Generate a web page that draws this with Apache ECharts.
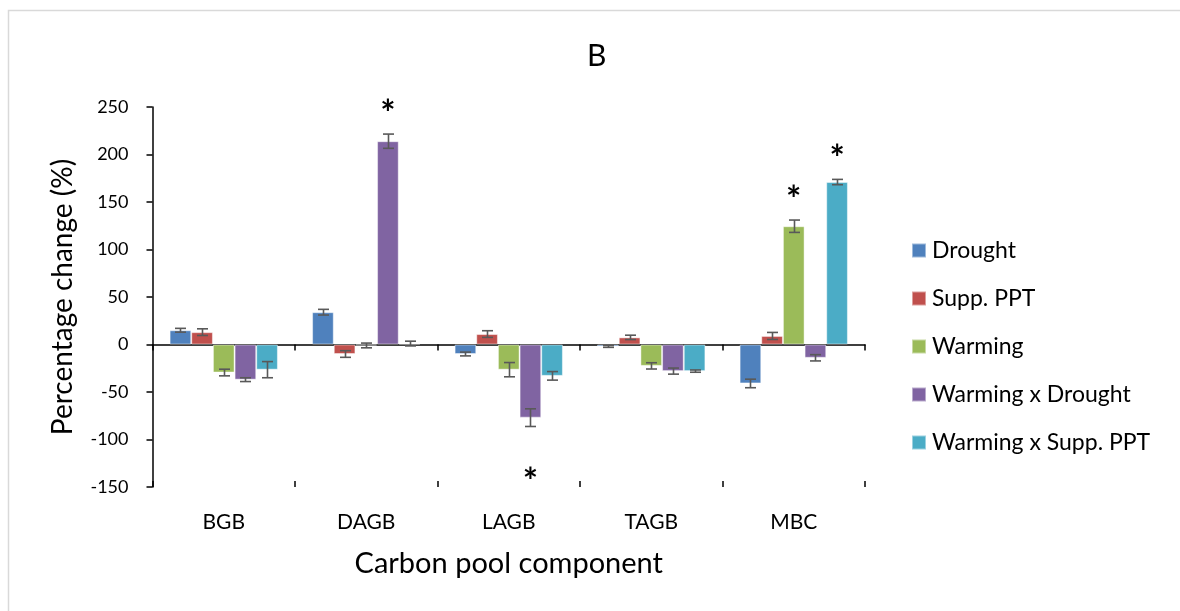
<!DOCTYPE html>
<html><head><meta charset="utf-8">
<script src="https://cdn.jsdelivr.net/npm/echarts@6/dist/echarts.min.js"></script>
<style>html,body{margin:0;padding:0;background:#fff}#c{width:1180px;height:611px}</style>
</head><body><div id="c"></div>
<script>
// ---- data ----
const categories = ['BGB', 'DAGB', 'LAGB', 'TAGB', 'MBC'];
const seriesNames = ['Drought', 'Supp. PPT', 'Warming', 'Warming x Drought', 'Warming x Supp. PPT'];
const drought        = [15, 34, -10, -2, -41];
const droughtErr     = [2, 3, 2, 1, 4.5];
const suppPPT        = [13, -10, 11, 7.5, 9];
const suppPPTErr     = [3.5, 3.5, 3.5, 2.3, 3.7];
const warming        = [-29.5, -1, -26.5, -22.5, 124.5];
const warmingErr     = [3.5, 2.5, 7.5, 3.3, 6.5];
const warmDrought    = [-37, 214, -77, -28, -14];
const warmDroughtErr = [2, 7.5, 9.3, 3.2, 3.3];
const warmSupp       = [-26.5, 1, -33, -28, 171];
const warmSuppErr    = [8.5, 2.5, 4.5, 1.2, 2.8];
// significant differences: [category index, series index]
const significant = [[1, 3], [2, 3], [4, 2], [4, 4]];
const yMin = -150, yMax = 250, yStep = 50;

// ---- styling ----
const colors = ['#4F81BD', '#C0504D', '#9BBB59', '#8064A2', '#4BACC6'];
const FONT = 'Lato, Carlito, "Open Sans", sans-serif';
const GAP = 0.24;

const values = [drought, suppPPT, warming, warmDrought, warmSupp];
const errs = [droughtErr, suppPPTErr, warmingErr, warmDroughtErr, warmSuppErr];
const nS = seriesNames.length;

function xOffset(api, s) {
  const band = api.size([1, 0])[0];
  const bw = band * (1 - GAP) / nS;
  return { off: (s - (nS - 1) / 2) * bw, bw: bw };
}

const errData = [];
values.forEach((arr, s) => arr.forEach((v, c) => errData.push([c, v, errs[s][c], s])));
const sigData = significant.map(([c, s]) => [c, values[s][c], errs[s][c], s]);

const barSeries = values.map((arr, s) => ({
  name: seriesNames[s], type: 'bar', data: arr,
  barGap: '0%', barCategoryGap: (GAP * 100) + '%',
  itemStyle: { color: colors[s], borderColor: 'rgba(255,255,255,0.45)', borderWidth: 1 },
  emphasis: { disabled: true }
}));

const option = {
  animation: false,
  backgroundColor: '#fff',
  color: colors,
  title: { text: 'B', left: 582, top: 36, textStyle: { fontFamily: FONT, fontSize: 30, fontWeight: 'normal', color: '#000' } },
  legend: {
    orient: 'vertical', left: 906, top: 234, itemWidth: 14, itemHeight: 14, itemGap: 25,
    icon: 'rect', data: seriesNames,
    textStyle: { fontFamily: FONT, fontSize: 23, color: '#000', lineHeight: 23, padding: [0, 0, 0, 1] }
  },
  grid: { left: 152.5, right: 315, top: 107, bottom: 124, containLabel: false },
  xAxis: [
    { type: 'category', data: categories, position: 'bottom',
      axisLine: { onZero: true, lineStyle: { color: '#000', width: 1.5 } },
      axisTick: { show: true, inside: false, length: 6, lineStyle: { color: '#000', width: 1.5 } },
      axisLabel: { show: false }, splitLine: { show: false } },
    { type: 'category', data: categories, position: 'bottom',
      axisLine: { show: false, onZero: true },
      axisTick: { show: true, inside: true, length: 6, lineStyle: { color: '#000', width: 1.5 } },
      axisLabel: { show: false }, splitLine: { show: false } },
    { type: 'category', data: categories, position: 'bottom',
      axisLine: { show: false, onZero: false }, axisTick: { show: false },
      axisLabel: { show: true, margin: 25, fontFamily: FONT, fontSize: 21, color: '#000' },
      name: 'Carbon pool component', nameLocation: 'middle', nameGap: 62,
      nameTextStyle: { fontFamily: FONT, fontSize: 29, color: '#000' } }
  ],
  yAxis: {
    type: 'value', min: yMin, max: yMax, interval: yStep,
    axisLine: { show: true, lineStyle: { color: '#000', width: 1.5 } },
    axisTick: { show: true, length: 6, lineStyle: { color: '#000', width: 1.5 } },
    splitLine: { show: false },
    axisLabel: { margin: 24, fontFamily: FONT, fontSize: 18, color: '#000' },
    name: 'Percentage change (%)', nameLocation: 'middle', nameRotate: 90, nameGap: 76,
    nameTextStyle: { fontFamily: FONT, fontSize: 28, color: '#000' }
  },
  graphic: [{
    type: 'rect', left: 6, top: 8, shape: { width: 1200, height: 700 },
    style: { fill: 'none', stroke: '#d9d9d9', lineWidth: 1.5 }, silent: true, z: -10
  }],
  series: barSeries.concat([
    { type: 'custom', name: 'err', data: errData, z: 5, silent: true,
      renderItem: function (params, api) {
        const c = api.value(0), v = api.value(1), e = api.value(2), s = api.value(3);
        const o = xOffset(api, s);
        const hi = api.coord([c, v + e]), lo = api.coord([c, v - e]);
        const x = Math.round(hi[0] + o.off) + 0.5;
        const cap = 5.5;
        const st = { stroke: '#595959', lineWidth: 1.6 };
        return { type: 'group', children: [
          { type: 'line', shape: { x1: x, y1: hi[1], x2: x, y2: lo[1] }, style: st },
          { type: 'line', shape: { x1: x - cap, y1: hi[1], x2: x + cap, y2: hi[1] }, style: st },
          { type: 'line', shape: { x1: x - cap, y1: lo[1], x2: x + cap, y2: lo[1] }, style: st }
        ]};
      }
    },
    { type: 'custom', name: 'sig', data: sigData, z: 6, silent: true,
      renderItem: function (params, api) {
        const c = api.value(0), v = api.value(1), e = api.value(2), s = api.value(3);
        const o = xOffset(api, s);
        const up = v >= 0;
        const p = api.coord([c, up ? v + e : v - e]);
        return { type: 'text', x: p[0] + o.off, y: up ? p[1] - 20 : p[1] + 56,
          style: { text: '*', fontFamily: FONT, fontSize: 36, fontWeight: 'bold', fill: '#000', align: 'center', verticalAlign: 'middle' } };
      }
    }
  ])
};
echarts.init(document.getElementById('c')).setOption(option);
</script></body></html>
